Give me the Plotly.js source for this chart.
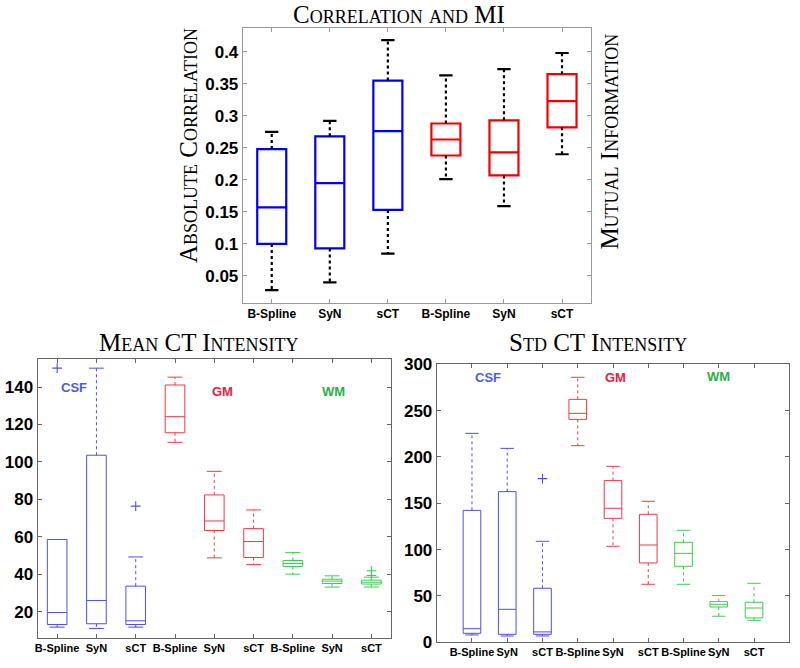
<!DOCTYPE html>
<html><head><meta charset="utf-8">
<script src="https://cdn.plot.ly/plotly-3.0.1.min.js"></script>
<style>html,body{margin:0;padding:0;background:#fff}#chart{width:800px;height:668px}</style>
</head><body><div id="chart"></div>
<script>
// ---------- data ----------
const methods = ['B-Spline', 'SyN', 'sCT'];

// Top: Absolute correlation (blue) and mutual information (red)
const corrLower  = [0.028, 0.040, 0.085];
const corrQ1     = [0.100, 0.093, 0.153];
const corrMedian = [0.157, 0.195, 0.276];
const corrQ3     = [0.248, 0.268, 0.355];
const corrUpper  = [0.275, 0.292, 0.418];

const miLower  = [0.201, 0.159, 0.240];
const miQ1     = [0.238, 0.207, 0.282];
const miMedian = [0.263, 0.243, 0.323];
const miQ3     = [0.288, 0.293, 0.365];
const miUpper  = [0.363, 0.373, 0.398];

// Bottom-left: Mean CT intensity
const meanCsfLower  = [11.8, 11.1, 11.8];
const meanCsfQ1     = [13.2, 13.6, 13.2];
const meanCsfMedian = [19.6, 26.0, 15.2];
const meanCsfQ3     = [58.6, 103.6, 33.7];
const meanCsfUpper  = [58.6, 150.1, 49.3];
const meanCsfOutliers = [[150.1], [], [76.4]];

const meanGmLower  = [110.5, 48.8, 45.2];
const meanGmQ1     = [115.6, 63.4, 49.0];
const meanGmMedian = [124.2, 68.5, 57.5];
const meanGmQ3     = [141.1, 82.4, 64.4];
const meanGmUpper  = [145.3, 95.0, 74.4];
const meanGmOutliers = [[], [], []];

const meanWmLower  = [40.1, 33.2, 33.2];
const meanWmQ1     = [44.2, 35.1, 34.8];
const meanWmMedian = [45.8, 36.4, 35.8];
const meanWmQ3     = [47.4, 37.4, 36.9];
const meanWmUpper  = [51.6, 39.2, 38.5];
const meanWmOutliers = [[], [], [41.9, 39.4]];

// Bottom-right: Std CT intensity
const stdCsfLower  = [7.9, 6.8, 6.8];
const stdCsfQ1     = [9.7, 8.6, 8.6];
const stdCsfMedian = [14.7, 35.6, 11.2];
const stdCsfQ3     = [142.4, 162.6, 58.3];
const stdCsfUpper  = [225.5, 209.3, 109.0];
const stdCsfOutliers = [[], [], [176.6]];

const stdGmLower  = [212.2, 103.6, 62.6];
const stdGmQ1     = [240.6, 133.8, 85.6];
const stdGmMedian = [247.1, 144.6, 105.0];
const stdGmQ3     = [262.2, 174.5, 138.1];
const stdGmUpper  = [286.0, 189.9, 152.2];
const stdGmOutliers = [[], [], []];

const stdWmLower  = [62.6, 28.1, 23.7];
const stdWmQ1     = [82.0, 38.1, 26.3];
const stdWmMedian = [96.0, 41.0, 37.0];
const stdWmQ3     = [107.9, 43.9, 43.2];
const stdWmUpper  = [120.9, 50.4, 63.7];
const stdWmOutliers = [[], [], []];

const tissueLabels = ['CSF', 'GM', 'WM'];

// ---------- styles ----------
const C_BLUE_T = '#0000f0', C_RED_T = '#f00000';
const C_BLUE = '#4f4fe6', C_RED = '#ee3a48', C_GREEN = '#3ccc4c';
const TXT_BLUE = '#4a5ee0', TXT_RED = '#e8203c', TXT_GREEN = '#2cb04c';

const traces = [];

function addGroup(xa, ya, offset, lower, q1, med, q3, upper, outliers, color, whiskColor, lw, capHalf, boxW) {
  const xs = methods.map((m, i) => offset + i + 1);
  traces.push({
    type: 'box', xaxis: xa, yaxis: ya, x: xs,
    q1: q1, median: med, q3: q3, lowerfence: q1, upperfence: q3,
    width: boxW, whiskerwidth: 0, boxpoints: false,
    line: {color: color, width: lw}, fillcolor: 'rgba(0,0,0,0)',
    hoverinfo: 'skip', showlegend: false
  });
  // dotted whiskers
  const wx = [], wy = [];
  xs.forEach((x, i) => { wx.push(x, x, null, x, x, null); wy.push(q3[i], upper[i], null, q1[i], lower[i], null); });
  traces.push({type: 'scatter', mode: 'lines', xaxis: xa, yaxis: ya, x: wx, y: wy,
    line: {color: whiskColor, width: lw, dash: 'dot'}, hoverinfo: 'skip', showlegend: false});
  // caps
  const cx = [], cy = [];
  xs.forEach((x, i) => {
    cx.push(x - capHalf, x + capHalf, null, x - capHalf, x + capHalf, null);
    cy.push(upper[i], upper[i], null, lower[i], lower[i], null);
  });
  traces.push({type: 'scatter', mode: 'lines', xaxis: xa, yaxis: ya, x: cx, y: cy,
    line: {color: whiskColor, width: lw}, hoverinfo: 'skip', showlegend: false});
  // outliers
  if (outliers) {
    const ox = [], oy = [];
    outliers.forEach((arr, i) => arr.forEach(v => { ox.push(xs[i]); oy.push(v); }));
    if (ox.length) traces.push({type: 'scatter', mode: 'markers', xaxis: xa, yaxis: ya, x: ox, y: oy,
      marker: {symbol: 'cross-thin-open', size: 7, line: {color: color, width: 1.1}, color: color},
      hoverinfo: 'skip', showlegend: false});
  }
}

// Top
addGroup('x', 'y', 0, corrLower, corrQ1, corrMedian, corrQ3, corrUpper, null, C_BLUE_T, '#000', 2.2, 0.115, 0.5);
addGroup('x', 'y', 3, miLower, miQ1, miMedian, miQ3, miUpper, null, C_RED_T, '#000', 2.2, 0.115, 0.5);
// Bottom-left
addGroup('x2', 'y2', 0, meanCsfLower, meanCsfQ1, meanCsfMedian, meanCsfQ3, meanCsfUpper, meanCsfOutliers, C_BLUE, C_BLUE, 1, 0.19, 0.5);
addGroup('x2', 'y2', 3, meanGmLower, meanGmQ1, meanGmMedian, meanGmQ3, meanGmUpper, meanGmOutliers, C_RED, C_RED, 1, 0.19, 0.5);
addGroup('x2', 'y2', 6, meanWmLower, meanWmQ1, meanWmMedian, meanWmQ3, meanWmUpper, meanWmOutliers, C_GREEN, C_GREEN, 1, 0.19, 0.5);
// Bottom-right
addGroup('x3', 'y3', 0, stdCsfLower, stdCsfQ1, stdCsfMedian, stdCsfQ3, stdCsfUpper, stdCsfOutliers, C_BLUE, C_BLUE, 1, 0.19, 0.5);
addGroup('x3', 'y3', 3, stdGmLower, stdGmQ1, stdGmMedian, stdGmQ3, stdGmUpper, stdGmOutliers, C_RED, C_RED, 1, 0.19, 0.5);
addGroup('x3', 'y3', 6, stdWmLower, stdWmQ1, stdWmMedian, stdWmQ3, stdWmUpper, stdWmOutliers, C_GREEN, C_GREEN, 1, 0.19, 0.5);

const topVals = [1, 2, 3, 4, 5, 6];
const topText = methods.concat(methods);
const botVals = [1, 2, 3, 4, 5, 6, 7, 8, 9];
const botText = methods.concat(methods, methods);

const tickFontY = {family: 'Liberation Sans, Arial, sans-serif', size: 17, color: '#000', weight: 'bold'};
const tickFontXTop = {family: 'Liberation Sans, Arial, sans-serif', size: 12, color: '#000', weight: 'bold'};
const tickFontX = {family: 'Liberation Sans, Arial, sans-serif', size: 11, color: '#000', weight: 'bold'};
const serif = 'Liberation Serif, Times New Roman, serif';

function xAxis(domain, range, anchor, vals, text, lc, tf) {
  return {domain: domain, range: range, anchor: anchor, tickmode: 'array', tickvals: vals, ticktext: text,
    tickangle: 0,
    ticks: 'inside', ticklen: 4, tickcolor: lc, showline: true, linecolor: lc, linewidth: 1, mirror: 'ticks',
    showgrid: false, zeroline: false, tickfont: tf, fixedrange: true};
}
function yAxis(domain, range, anchor, dtick, lc) {
  return {domain: domain, range: range, anchor: anchor, dtick: dtick, tick0: 0,
    ticks: 'inside', ticklen: 4, tickcolor: lc, showline: true, linecolor: lc, linewidth: 1, mirror: 'ticks',
    showgrid: false, zeroline: false, tickfont: tickFontY, fixedrange: true};
}

function titleAnn(text, x, y, angle) {
  return {text: text, xref: 'paper', yref: 'paper', x: x, y: y, xanchor: 'center', yanchor: 'middle',
    textangle: angle, showarrow: false,
    font: {family: serif, size: 25, color: '#000', variant: 'small-caps'}};
}
function tissueAnn(text, xa, ya, x, y, color) {
  return {text: text, xref: xa, yref: ya, x: x, y: y, xanchor: 'center', yanchor: 'middle', showarrow: false,
    font: {family: 'Liberation Sans, Arial', size: 13, color: color, weight: 'bold'}};
}

const layout = {
  width: 800, height: 668, margin: {l: 0, r: 0, t: 0, b: 0},
  paper_bgcolor: '#fff', plot_bgcolor: '#fff', showlegend: false,
  xaxis:  xAxis([0.3034, 0.7388], [0.5, 6.5], 'y', topVals, topText, '#999', tickFontXTop),
  yaxis:  yAxis([0.5469, 0.9585], [0.0083, 0.4375], 'x', 0.05, '#999'),
  xaxis2: xAxis([0.0469, 0.4888], [0.5, 9.5], 'y2', botVals, botText, '#666', tickFontX),
  yaxis2: yAxis([0.0449, 0.4626], [6, 155], 'x2', 20, '#666'),
  xaxis3: xAxis([0.5459, 0.9866], [0, 10], 'y3', botVals, botText, '#666', tickFontX),
  yaxis3: yAxis([0.0385, 0.4546], [0, 300], 'x3', 50, '#666'),
  annotations: [
    titleAnn('Correlation and MI', 0.499, 0.979, 0),
    titleAnn('Absolute Correlation', 0.235, 0.7814, -90),
    titleAnn('Mutual Information', 0.7625, 0.788, -90),
    titleAnn('Mean CT Intensity', 0.2485, 0.487, 0),
    titleAnn('Std CT Intensity', 0.7469, 0.487, 0),
    tissueAnn(tissueLabels[0], 'x2', 'y2', 1.43, 139.7, TXT_BLUE),
    tissueAnn(tissueLabels[1], 'x2', 'y2', 5.21, 137.7, TXT_RED),
    tissueAnn(tissueLabels[2], 'x2', 'y2', 8.03, 137.7, TXT_GREEN),
    tissueAnn(tissueLabels[0], 'x3', 'y3', 1.46, 285.5, TXT_BLUE),
    tissueAnn(tissueLabels[1], 'x3', 'y3', 5.06, 285.5, TXT_RED),
    tissueAnn(tissueLabels[2], 'x3', 'y3', 7.99, 286.5, TXT_GREEN)
  ]
};

Plotly.newPlot('chart', traces, layout, {staticPlot: true, displayModeBar: false});
</script></body></html>
